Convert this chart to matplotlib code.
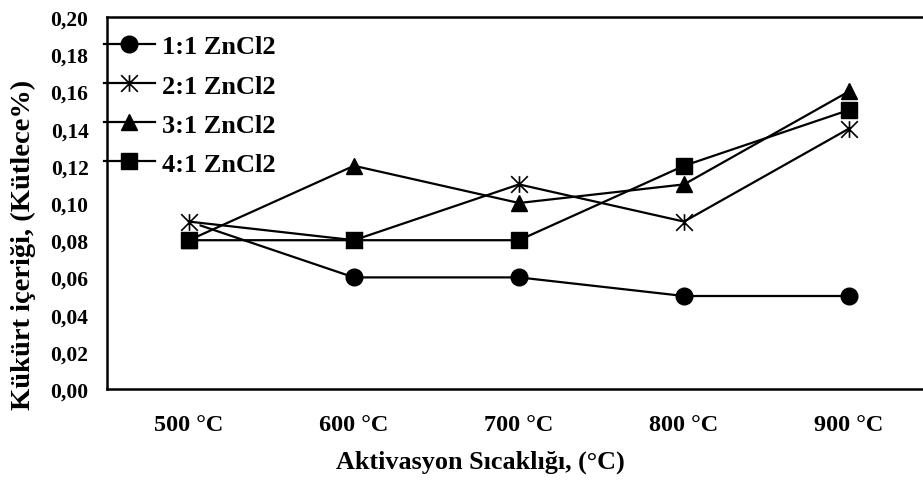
import matplotlib
matplotlib.use('Agg')
import matplotlib.pyplot as plt
from matplotlib.path import Path
from matplotlib.ticker import MultipleLocator, FuncFormatter

plt.rcParams['font.family'] = ['Liberation Serif', 'DejaVu Serif']
plt.rcParams['font.weight'] = 'bold'

# data
temperatures = ['500 °C', '600 °C', '700 °C', '800 °C', '900 °C']
ratio_1_1 = [0.09, 0.06, 0.06, 0.05, 0.05]
ratio_2_1 = [0.09, 0.08, 0.11, 0.09, 0.14]
ratio_3_1 = [0.08, 0.12, 0.10, 0.11, 0.16]
ratio_4_1 = [0.08, 0.08, 0.08, 0.12, 0.15]
series_labels = ['1:1 ZnCl2', '2:1 ZnCl2', '3:1 ZnCl2', '4:1 ZnCl2']

# Excel-style asterisk: an X with a vertical stroke
asterisk = Path(
    [(-1, -1), (1, 1), (-1, 1), (1, -1), (0, -1), (0, 1)],
    [Path.MOVETO, Path.LINETO, Path.MOVETO, Path.LINETO, Path.MOVETO, Path.LINETO],
)

fig = plt.figure(figsize=(9.23, 4.81), dpi=100)
ax = fig.add_axes([106.5 / 923, 91 / 481, 825 / 923, 372 / 481])

x = range(len(temperatures))
lw = 1.6
ax.plot(x, ratio_1_1, color='black', lw=lw, marker='o', ms=12, label=series_labels[0])
# white box behind the asterisk markers, as Excel draws them
ax.plot(x, ratio_2_1, ls='none', marker='s', ms=14, mfc='white', mec='none')
ax.plot(x, ratio_2_1, color='black', lw=lw, marker=asterisk, ms=12, mew=1.2,
        mfc='none', mec='black', label=series_labels[1])
ax.plot(x, ratio_3_1, color='black', lw=lw, marker='^', ms=12, label=series_labels[2])
ax.plot(x, ratio_4_1, color='black', lw=lw, marker='s', ms=12, label=series_labels[3])

ax.set_xlim(-0.5, len(temperatures) - 0.5)
ax.set_ylim(0, 0.20)
ax.yaxis.set_major_locator(MultipleLocator(0.02))
ax.yaxis.set_major_formatter(FuncFormatter(lambda v, p: f'{v:.2f}'.replace('.', ',')))
ax.set_xticks(list(x))
ax.set_xticklabels(temperatures)
ax.tick_params(axis='y', length=0, pad=13, labelsize=15.5)
ax.tick_params(axis='x', length=0, pad=18, labelsize=17.5)

for side in ['left', 'bottom', 'top']:
    ax.spines[side].set_linewidth(1.8)
ax.spines['right'].set_visible(False)

leg = ax.legend(
    loc='upper left',
    bbox_to_anchor=(104 / 923, 1 - 36 / 481),
    bbox_transform=fig.transFigure,
    frameon=False,
    fontsize=19,
    handlelength=1.93,
    handletextpad=0.27,
    labelspacing=0.59,
    borderpad=0,
    borderaxespad=0,
)

fig.text(480 / 923, 1 - 462 / 481, 'Aktivasyon Sıcaklığı, (°C)',
         ha='center', va='center', fontsize=18.8, fontweight='bold')
fig.text(23 / 923, 1 - 245 / 481, 'Kükürt içeriği, (Kütlece%)',
         ha='center', va='center', rotation=90, fontsize=20.5, fontweight='bold')

fig.savefig('out.png', dpi=100)
